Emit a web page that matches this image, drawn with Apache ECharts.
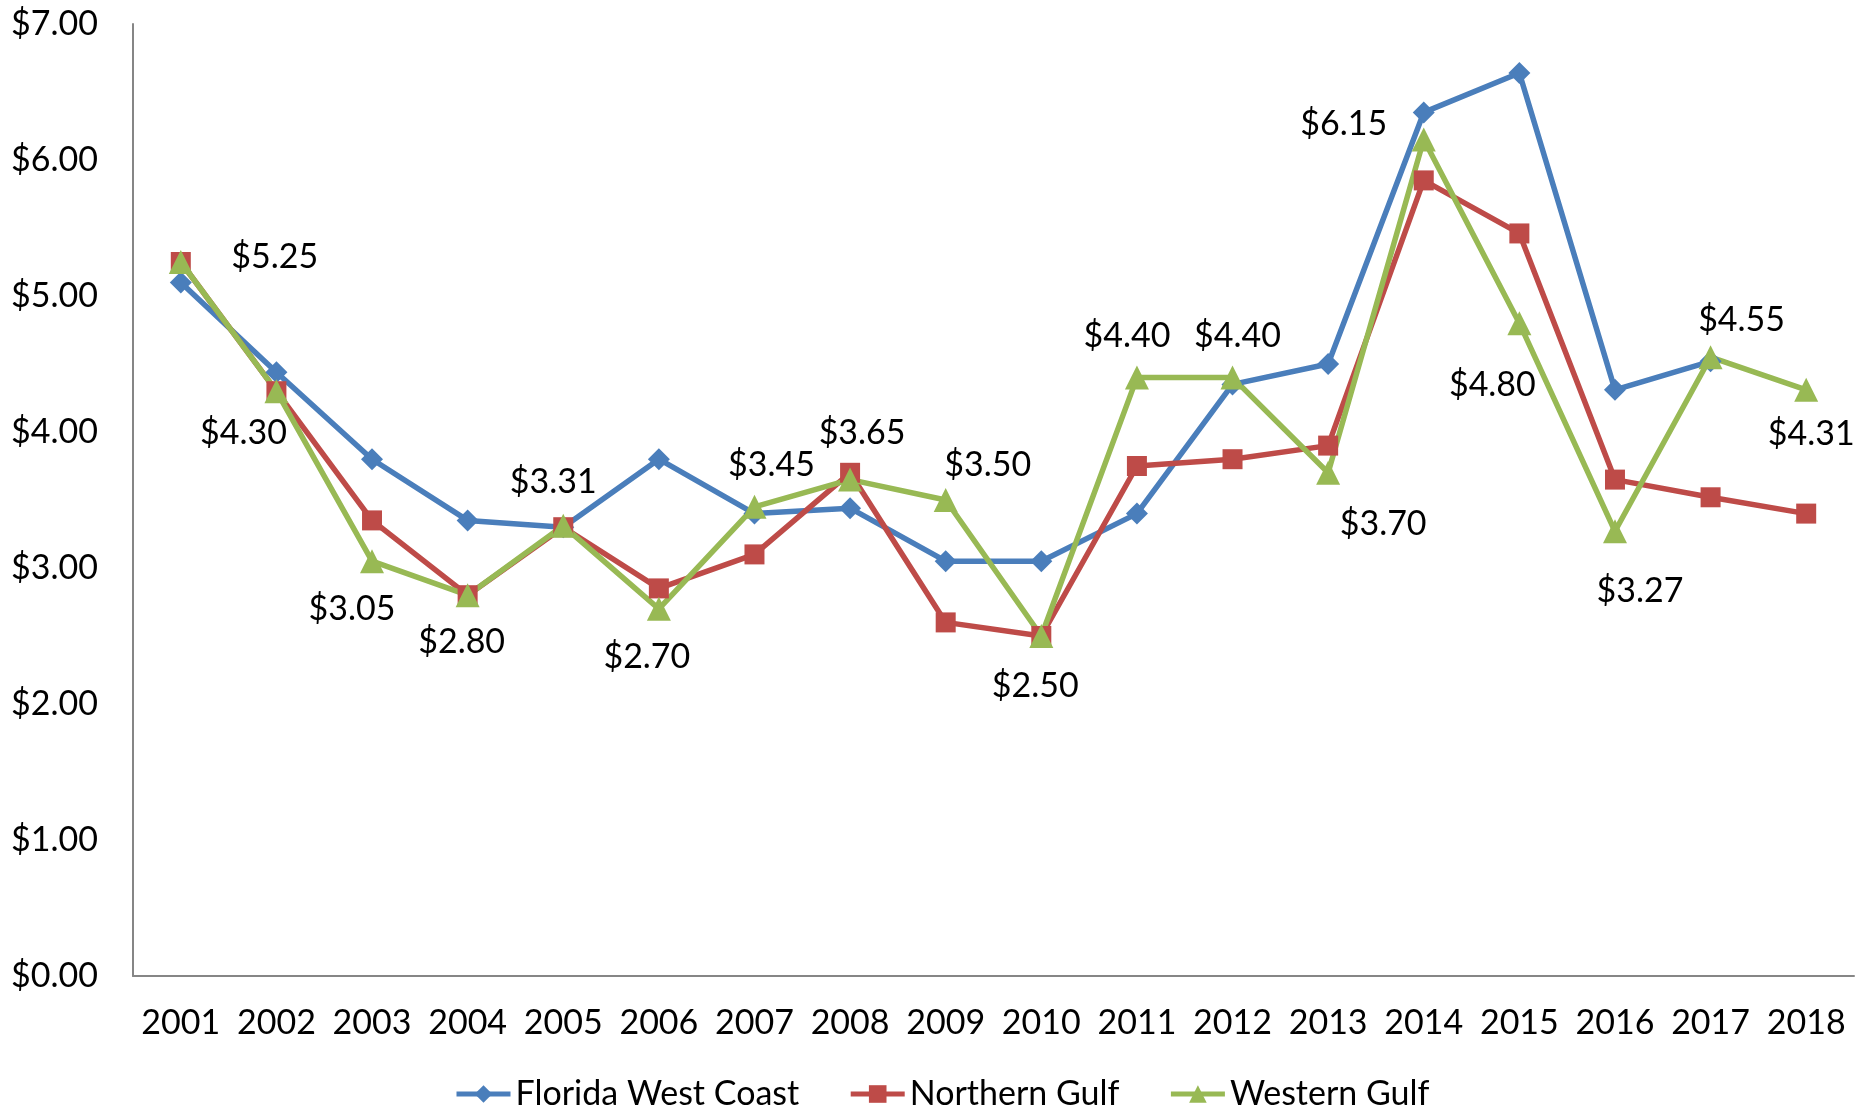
<!DOCTYPE html>
<html>
<head>
<meta charset="utf-8">
<script src="https://cdn.jsdelivr.net/npm/echarts@6/dist/echarts.min.js"></script>
<style>
html,body{margin:0;padding:0;background:#fff;}
#chart{width:1873px;height:1108px;}
</style>
</head>
<body>
<div id="chart"></div>
<script>
var years = ['2001','2002','2003','2004','2005','2006','2007','2008','2009','2010','2011','2012','2013','2014','2015','2016','2017','2018'];
var floridaWestCoast = [5.10,4.44,3.80,3.35,3.30,3.80,3.40,3.44,3.05,3.05,3.40,4.35,4.50,6.35,6.64,4.31,4.52,null];
var northernGulf = [5.25,4.30,3.35,2.80,3.30,2.85,3.10,3.70,2.60,2.50,3.75,3.80,3.90,5.85,5.46,3.65,3.52,3.40];
var westernGulf = [5.25,4.30,3.05,2.80,3.31,2.70,3.45,3.65,3.50,2.50,4.40,4.40,3.70,6.15,4.80,3.27,4.55,4.31];
var yTicks = [0,1,2,3,4,5,6,7];

// label offsets (layout only) for Western Gulf data labels
var labelOffsets = [[94,-5],[-33,42],[-20,48],[-6,47],[-10,-44],[-12,48],[17,-42],[12,-47],[42,-35],[-6,50],[-10,-42],[5,-42],[55,51],[-80,-16],[-27,62],[25,60],[31,-37],[5,44]];

var FONT = 'Lato';
var FS = 34;
var chart = echarts.init(document.getElementById('chart'));

var wgData = westernGulf.map(function(v,i){
  return {value:v, label:{show:true, position:'inside', offset:labelOffsets[i]}};
});

chart.setOption({
  animation:false,
  backgroundColor:'#ffffff',
  grid:{left:133,right:19,top:24,bottom:132,containLabel:false},
  legend:{
    data:['Florida West Coast','Northern Gulf','Western Gulf'],
    left:449, top:1072,
    itemWidth:54, itemHeight:22, itemGap:49,
    lineStyle:{width:5},
    textStyle:{fontFamily:FONT,fontSize:FS,color:'#000'}
  },
  xAxis:{
    type:'category', data:years, boundaryGap:true,
    axisLine:{lineStyle:{color:'#868686',width:2}},
    axisTick:{show:false},
    axisLabel:{interval:0,fontFamily:FONT,fontSize:FS,color:'#000',margin:30}
  },
  yAxis:{
    type:'value', min:0, max:7, interval:1,
    axisLine:{show:true,lineStyle:{color:'#868686',width:2}},
    axisTick:{show:false},
    splitLine:{show:false},
    axisLabel:{fontFamily:FONT,fontSize:FS,color:'#000',margin:35,
      formatter:function(v){return '$'+v.toFixed(2);}}
  },
  series:[
    {name:'Florida West Coast',type:'line',data:floridaWestCoast,
     symbol:'diamond',symbolSize:22,
     lineStyle:{color:'#4A7EBB',width:5.5},itemStyle:{color:'#4A7EBB'}},
    {name:'Northern Gulf',type:'line',data:northernGulf,
     symbol:'rect',symbolSize:20,
     lineStyle:{color:'#BE4B48',width:5.5},itemStyle:{color:'#BE4B48'}},
    {name:'Western Gulf',type:'line',data:wgData,
     symbol:'triangle',symbolSize:24,
     lineStyle:{color:'#98B954',width:5.5},itemStyle:{color:'#98B954'},
     label:{show:true,fontFamily:FONT,fontSize:FS,color:'#000',
       formatter:function(p){return '$'+p.value.toFixed(2);}}}
  ]
});
</script>
</body>
</html>
